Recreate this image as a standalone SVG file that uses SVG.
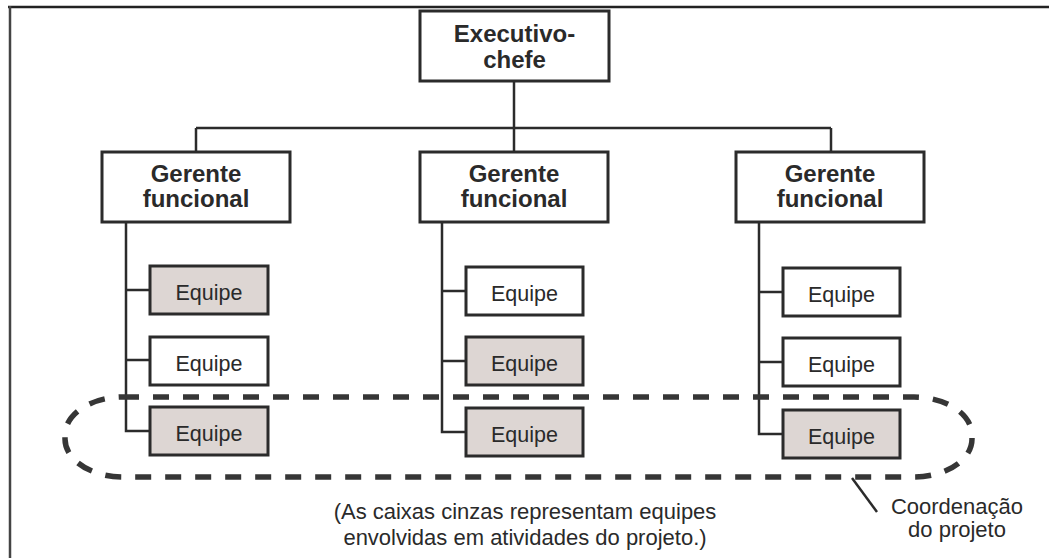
<svg xmlns="http://www.w3.org/2000/svg" width="1049" height="558" viewBox="0 0 1049 558">
  <style>
    .box { fill: #ffffff; stroke: #2b2b2b; stroke-width: 3; }
    .gray { fill: #ddd6d3; }
    .line { stroke: #2b2b2b; stroke-width: 2.5; fill: none; }
    .bold { font-family: "Liberation Sans", Arial, sans-serif; font-weight: bold; font-size: 24px; fill: #2a2a2a; text-anchor: middle; }
    .reg { font-family: "Liberation Sans", Arial, sans-serif; font-size: 21.5px; fill: #2a2a2a; text-anchor: middle; }
    .cap { font-family: "Liberation Sans", Arial, sans-serif; font-size: 22px; fill: #2a2a2a; text-anchor: middle; }
    .dash { fill: none; stroke: #363636; stroke-width: 5.5; stroke-dasharray: 16 14; }
  </style>
  <rect width="1049" height="558" fill="#ffffff"/>
  <g id="frame">
    <line x1="8" y1="7" x2="1049" y2="7" stroke="#222" stroke-width="2.5"/>
    <line x1="10" y1="6" x2="10" y2="558" stroke="#444" stroke-width="2.5"/>
  </g>

  <g id="connectors" class="line">
    <line x1="514" y1="81" x2="514" y2="128"/>
    <line x1="196" y1="128" x2="831" y2="128"/>
    <line x1="196" y1="128" x2="196" y2="152"/>
    <line x1="514" y1="128" x2="514" y2="152"/>
    <line x1="831" y1="128" x2="831" y2="152"/>
    <path d="M126 222 V431 H150 M126 290 H150 M126 360 H150"/>
    <path d="M442 222 V432 H466 M442 291 H466 M442 361 H466"/>
    <path d="M759 222 V434 H783 M759 292 H783 M759 362 H783"/>
  </g>

  <g id="exec">
    <rect class="box" x="420" y="11" width="189" height="70"/>
    <text class="bold" x="514.5" y="42">Executivo-</text>
    <text class="bold" x="514.5" y="68">chefe</text>
  </g>

  <g id="gerente1">
    <rect class="box" x="102" y="152" width="188" height="70"/>
    <text class="bold" x="196" y="182">Gerente</text>
    <text class="bold" x="196" y="207">funcional</text>
  </g>
  <g id="gerente2">
    <rect class="box" x="420" y="152" width="188" height="70"/>
    <text class="bold" x="514" y="182">Gerente</text>
    <text class="bold" x="514" y="207">funcional</text>
  </g>
  <g id="gerente3">
    <rect class="box" x="736" y="152" width="188" height="70"/>
    <text class="bold" x="830" y="182">Gerente</text>
    <text class="bold" x="830" y="207">funcional</text>
  </g>

  <g id="equipe1a"><rect class="box gray" x="150" y="266" width="118" height="48"/><text class="reg" x="209" y="300">Equipe</text></g>
  <g id="equipe1b"><rect class="box" x="150" y="337" width="118" height="48"/><text class="reg" x="209" y="371">Equipe</text></g>
  <g id="equipe1c"><rect class="box gray" x="150" y="407" width="118" height="48"/><text class="reg" x="209" y="441">Equipe</text></g>

  <g id="equipe2a"><rect class="box" x="466" y="267" width="117" height="48"/><text class="reg" x="524.5" y="301">Equipe</text></g>
  <g id="equipe2b"><rect class="box gray" x="466" y="337" width="117" height="48"/><text class="reg" x="524.5" y="371">Equipe</text></g>
  <g id="equipe2c"><rect class="box gray" x="466" y="408" width="117" height="48"/><text class="reg" x="524.5" y="442">Equipe</text></g>

  <g id="equipe3a"><rect class="box" x="783" y="268" width="117" height="48"/><text class="reg" x="841.5" y="302">Equipe</text></g>
  <g id="equipe3b"><rect class="box" x="783" y="338" width="117" height="48"/><text class="reg" x="841.5" y="372">Equipe</text></g>
  <g id="equipe3c"><rect class="box gray" x="783" y="410" width="117" height="48"/><text class="reg" x="841.5" y="444">Equipe</text></g>

  <g id="coordenacao">
    <rect class="dash" x="65" y="397" width="907" height="80" rx="58" ry="38"/>
    <line x1="852" y1="478" x2="877" y2="512" stroke="#2b2b2b" stroke-width="2.5"/>
    <text class="cap" x="957" y="514">Coordenação</text>
    <text class="cap" x="957" y="537">do projeto</text>
  </g>

  <g id="legenda">
    <text class="cap" x="525" y="519">(As caixas cinzas representam equipes</text>
    <text class="cap" x="525" y="545">envolvidas em atividades do projeto.)</text>
  </g>
</svg>
